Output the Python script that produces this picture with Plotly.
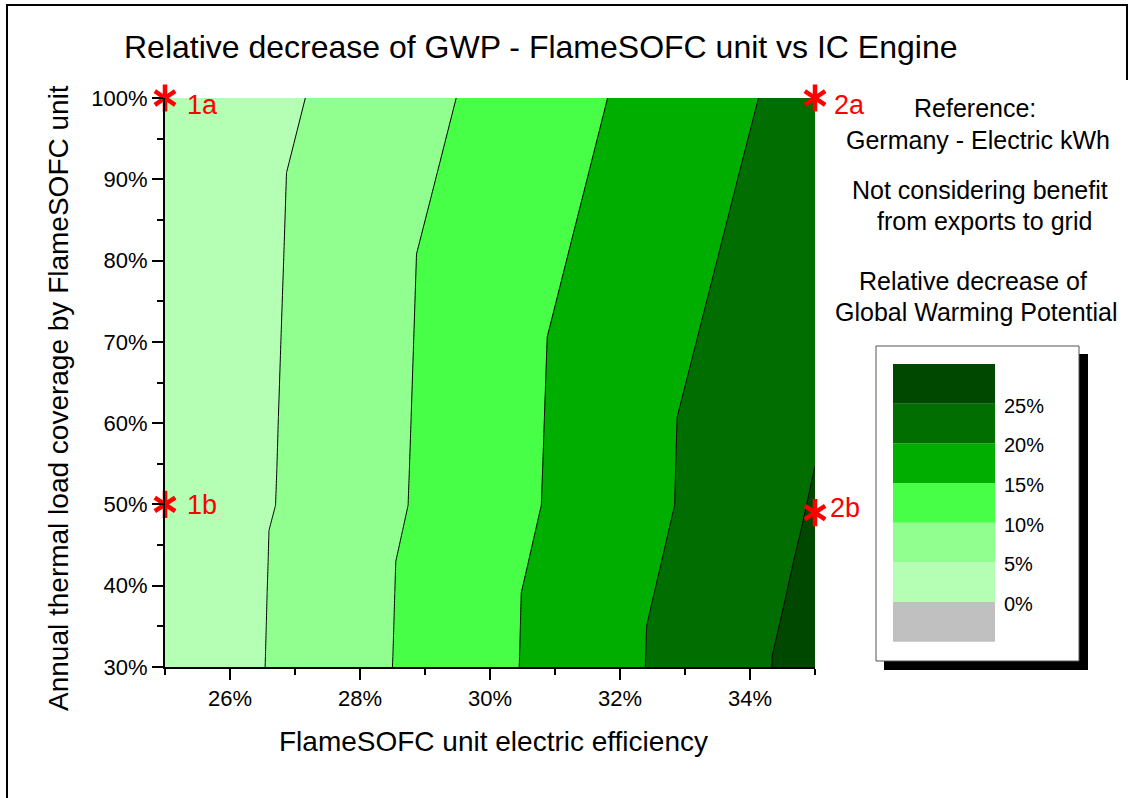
import plotly.graph_objects as go

# ---------------- data ----------------
# electric efficiency of the FlameSOFC unit (%), grid columns
efficiency = [25, 30, 32, 34.2, 35]
# annual thermal load coverage (%), grid rows
coverage = [30, 31.3, 35.1, 39.1, 43.0, 46.8, 49.9, 54.4, 60.7, 70.6, 80.8, 90.8, 100]
# relative decrease of GWP (%) at each efficiency column, one value per coverage row
gwp_eff_25 = [1.07, 1.06, 1.03, 1.00, 0.96, 1.11, 0.83, 0.78, 0.73, 0.63, 0.52, 0.97, 0.35]
gwp_eff_30 = [13.83, 13.81, 13.77, 13.73, 13.69, 13.27, 13.09, 13.04, 12.97, 12.87, 12.77, 11.75, 11.12]
gwp_eff_32 = [19.04, 19.04, 19.03, 19.02, 18.11, 18.21, 17.93, 17.88, 17.82, 17.71, 16.48, 16.03, 15.41]
gwp_eff_342 = [24.46, 24.39, 24.23, 23.12, 24.60, 23.46, 23.35, 23.33, 23.28, 21.93, 21.58, 20.79, 20.15]
gwp_eff_35 = [27.57, 27.87, 26.70, 27.26, 25.28, 25.57, 25.32, 25.02, 24.60, 23.80, 23.20, 22.50, 21.90]

# contour levels and band colours (below 0, 0-5, 5-10, ..., above 25)
levels = [0, 5, 10, 15, 20, 25]
band_colors = ["#C0C0C0", "#B4FFB4", "#90FF90", "#48FF48", "#00AE00", "#006E00", "#004800"]
legend_labels = ["0%", "5%", "10%", "15%", "20%", "25%"]

# marked operating points
point_eff = [25, 25, 35, 35]
point_cov = [100, 50, 100, 49]
point_names = ["1a", "1b", "2a", "2b"]

z = [list(r) for r in zip(gwp_eff_25, gwp_eff_30, gwp_eff_32, gwp_eff_342, gwp_eff_35)]

# ---------------- figure geometry helpers (pixels -> paper) ----------------
W, H = 1136, 798
L, R, T, B = 165, 815, 98, 667


def px(x):
    return (x - L) / (R - L)


def py(y):
    return 1 - (y - T) / (B - T)


FONT = "Liberation Sans, Arial, sans-serif"

n = len(band_colors) - 1
colorscale = [[i / n, c] for i, c in enumerate(band_colors)]

fig = go.Figure()
fig.add_trace(go.Contour(
    x=efficiency, y=coverage, z=z,
    contours=dict(start=levels[0], end=levels[-1], size=levels[1] - levels[0],
                  coloring="fill", showlines=True),
    colorscale=colorscale, showscale=False,
    line=dict(color="black", width=1, smoothing=0),
    hoverinfo="skip",
))

for sym in ["y-up-open", "y-down-open"]:
    fig.add_trace(go.Scatter(
        x=point_eff, y=point_cov, mode="markers", cliponaxis=False,
        marker=dict(symbol=sym, size=17, color="red", line=dict(color="red", width=4.5)),
        hoverinfo="skip", showlegend=False,
    ))

# label offsets in pixels: (right, down)
shifts = {"1a": (20, 7), "1b": (20, 1), "2a": (17, 7), "2b": (13, -5)}
annotations = []
for e, c, name in zip(point_eff, point_cov, point_names):
    dx, dy = shifts[name]
    annotations.append(dict(x=e, y=c, xref="x", yref="y", text=name, showarrow=False,
                            xanchor="left", yanchor="middle", xshift=dx, yshift=-dy,
                            font=dict(family=FONT, size=27, color="red")))

# title
annotations.append(dict(x=px(541), y=py(47), xref="paper", yref="paper",
                        text="Relative decrease of GWP - FlameSOFC unit vs IC Engine",
                        showarrow=False, xanchor="center", yanchor="middle",
                        font=dict(family=FONT, size=32, color="black")))
# axis titles
annotations.append(dict(x=px(493), y=py(741), xref="paper", yref="paper",
                        text="FlameSOFC unit electric efficiency",
                        showarrow=False, xanchor="center", yanchor="middle",
                        font=dict(family=FONT, size=28, color="black")))
annotations.append(dict(x=px(58), y=py(398), xref="paper", yref="paper",
                        text="Annual thermal load coverage by FlameSOFC unit", textangle=-90,
                        showarrow=False, xanchor="center", yanchor="middle",
                        font=dict(family=FONT, size=28, color="black")))

# right-hand notes
notes = [("Reference:", 975, 108), ("Germany - Electric kWh", 978, 140),
         ("Not considering benefit", 980, 190), ("from exports to grid", 984, 221),
         ("Relative decrease of", 973, 281), ("Global Warming Potential", 976, 312)]
for txt, cx, cy in notes:
    annotations.append(dict(x=px(cx), y=py(cy), xref="paper", yref="paper", text=txt,
                            showarrow=False, xanchor="center", yanchor="middle",
                            font=dict(family=FONT, size=25, color="black")))

shapes = []
# outer frame of the picture
shapes.append(dict(type="line", xref="paper", yref="paper", x0=px(7), x1=px(7), y0=py(5), y1=py(800),
                   line=dict(color="black", width=2)))
shapes.append(dict(type="line", xref="paper", yref="paper", x0=px(6), x1=px(1128), y0=py(5), y1=py(5),
                   line=dict(color="black", width=2)))
shapes.append(dict(type="line", xref="paper", yref="paper", x0=px(1127), x1=px(1127), y0=py(5), y1=py(80),
                   line=dict(color="black", width=2)))

# legend box with drop shadow
shapes.append(dict(type="rect", xref="paper", yref="paper", x0=px(884), x1=px(1088), y0=py(354), y1=py(670),
                   fillcolor="black", line=dict(width=0)))
shapes.append(dict(type="rect", xref="paper", yref="paper", x0=px(876), x1=px(1079), y0=py(346), y1=py(661),
                   fillcolor="white", line=dict(color="#555555", width=1)))
band_h = (641.7 - 364) / len(band_colors)
for i, col in enumerate(band_colors):
    top = 641.7 - (i + 1) * band_h
    bot = 641.7 - i * band_h
    shapes.append(dict(type="rect", xref="paper", yref="paper", x0=px(893), x1=px(995),
                       y0=py(bot), y1=py(top), fillcolor=col, line=dict(width=0)))
for i, lab in enumerate(legend_labels):
    yb = 641.7 - (i + 1) * band_h
    annotations.append(dict(x=px(1002), y=py(yb + 2), xref="paper", yref="paper", text=lab,
                            showarrow=False, xanchor="left", yanchor="middle",
                            font=dict(family=FONT, size=20, color="black")))

axis_common = dict(showline=True, linecolor="black", linewidth=2, ticks="outside", ticklen=11,
                   tickwidth=2, tickcolor="black", showgrid=False, zeroline=False,
                   ticksuffix="%", tickfont=dict(family=FONT, size=22, color="black"),
                   mirror=False)

fig.update_layout(
    width=W, height=H, autosize=False,
    margin=dict(l=L, r=W - R, t=T, b=H - B, pad=0),
    paper_bgcolor="white", plot_bgcolor="white",
    showlegend=False,
    xaxis=dict(range=[25, 35], tickmode="linear", tick0=26, dtick=2,
               minor=dict(tick0=25, dtick=1, ticks="outside", ticklen=6, tickwidth=2, tickcolor="black",
                          showgrid=False),
               **axis_common),
    yaxis=dict(range=[30, 100], tickmode="linear", tick0=30, dtick=10,
               minor=dict(tick0=30, dtick=5, ticks="outside", ticklen=6, tickwidth=2, tickcolor="black",
                          showgrid=False),
               **axis_common),
    annotations=annotations,
    shapes=shapes,
)

fig.write_html("out.html")
